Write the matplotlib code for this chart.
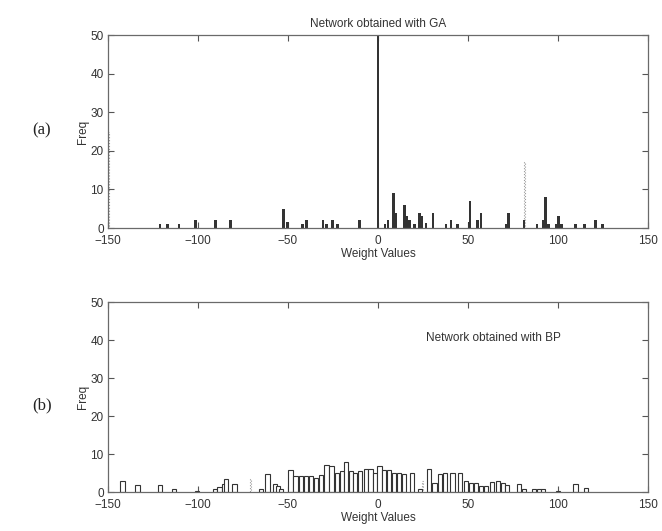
import numpy as np
import matplotlib
matplotlib.use('Agg')
import matplotlib.pyplot as plt

plt.rcParams['font.family'] = ['Liberation Sans', 'DejaVu Sans']

# GA network weight histogram (bar centre, count)
ga_x = [-121.2, -117.0, -110.6, -101.4, -90.3, -81.8, -52.4, -50.2, -41.9, -39.8,
        -30.6, -28.6, -25.3, -22.5, -10.3, 0.0, 3.8, 5.5, 8.7, 9.9, 14.7, 16.1,
        17.6, 20.3, 23.0, 24.4, 26.7, 30.5, 37.8, 40.5, 44.1, 50.8, 51.1, 55.3,
        57.3, 71.4, 72.4, 81.0, 88.3, 91.5, 92.9, 94.8, 98.9, 100.3, 102.0,
        109.8, 114.8, 120.8, 124.6]
ga_h = [1, 1, 1, 2, 2, 2, 5, 1.5, 1, 2,
        2, 1, 2, 1, 2, 50, 1, 2, 9, 4, 6, 3,
        2, 1, 4, 3, 1.3, 4, 1, 2, 1, 1.5, 7, 2,
        4, 1, 4, 2, 1, 2, 8, 1, 1, 3, 1,
        1, 1, 2, 1]
# faint dotted marks in the GA panel
ga_faint_x = [-149.5, 81.6]
ga_faint_h = [25, 17]

# BP network weight histogram (bar centre, count)
bp_x = [-141.9, -133.6, -121.2, -113.4, -100.7, -90.5, -88.0, -85.5, -84.3, -79.7,
        -64.8, -61.4, -57.3, -55.5, -53.8,
        -48.6, -45.8, -43.0, -40.2, -37.4, -34.6, -31.8, -28.6, -25.8, -22.8,
        -20.2, -17.9, -15.2, -12.6, -9.8, -6.9, -4.2, -1.6, 0.8, 3.4, 6.2, 9.0,
        11.8, 14.6, 19.0, 23.4, 28.4, 31.4, 34.2, 37.0, 41.4, 45.5, 48.8, 51.6,
        54.4, 57.2, 60.0, 63.5, 66.5, 69.3, 71.8, 78.5, 81.2, 86.5, 89.2, 91.8,
        100.0, 109.7, 115.5]
bp_h = [3, 1.8, 1.8, 0.7, 0.3, 0.9, 1.2, 2, 3.5, 2,
        0.7, 4.7, 2, 1.6, 0.7,
        5.8, 4.2, 4.2, 4.2, 4.2, 3.8, 4.6, 7, 6.9, 5,
        5.5, 7.8, 5.5, 5, 5.5, 6, 6, 5, 6.9, 5.8, 5.8, 5,
        5, 4.7, 5, 0.7, 6, 2.5, 4.7, 5, 5, 5.1, 3, 2.5,
        2.5, 1.6, 1.6, 2.7, 3, 2.5, 1.8, 2, 0.7, 0.7, 0.7, 0.7,
        0.3, 2, 1]
bp_faint_x = [-70.8, 24.5]
bp_faint_h = [3.5, 3]

xticks = [-150, -100, -50, 0, 50, 100, 150]
yticks = [0, 10, 20, 30, 40, 50]

fig = plt.figure(figsize=(6.62, 5.31), dpi=100)
ax1 = fig.add_axes([0.163, 0.5706, 0.816, 0.363])
ax2 = fig.add_axes([0.163, 0.0734, 0.816, 0.357])

spine_c = '#6a6a6a'
for ax in (ax1, ax2):
    ax.set_xlim(-150, 150)
    ax.set_ylim(0, 50)
    ax.set_xticks(xticks)
    ax.set_yticks(yticks)
    ax.set_xticklabels([str(t).replace('-', '\u2212') for t in xticks])
    ax.tick_params(direction='in', top=True, right=True, length=4, width=0.8,
                   color='#555555', labelsize=8.5, labelcolor='#333333')
    ax.tick_params(axis='x', pad=5)
    ax.tick_params(axis='y', pad=3)
    for s in ax.spines.values():
        s.set_color(spine_c)
        s.set_linewidth(0.9)
    ax.set_xlabel('Weight Values', fontsize=8.5, color='#333333', labelpad=1)
    ax.set_ylabel('Freq', fontsize=8.5, color='#333333', labelpad=1)

ax1.bar(ga_x, ga_h, width=1.4, color='#333333', edgecolor='none', zorder=2)
ax1.bar(ga_faint_x, ga_faint_h, width=0.5, color='none', edgecolor='#9a9a9a',
        linestyle=':', linewidth=0.8, zorder=1)
ax1.set_title('Network obtained with GA', fontsize=8.5, color='#333333', pad=6)

ax2.bar(bp_x, bp_h, width=2.3, color='white', edgecolor='#333333', linewidth=0.8, zorder=2)
ax2.bar(bp_faint_x, bp_faint_h, width=0.6, color='none', edgecolor='#9a9a9a',
        linestyle=':', linewidth=0.8, zorder=1)
ax2.text(64, 40.5, 'Network obtained with BP', fontsize=8.5, color='#333333',
         ha='center', va='center')

fig.text(0.063, 0.755, '(a)', family=['Liberation Serif', 'DejaVu Serif'], fontsize=12,
         ha='center', va='center', color='#222222')
fig.text(0.063, 0.237, '(b)', family=['Liberation Serif', 'DejaVu Serif'], fontsize=12,
         ha='center', va='center', color='#222222')

fig.savefig('out.png', dpi=100)
